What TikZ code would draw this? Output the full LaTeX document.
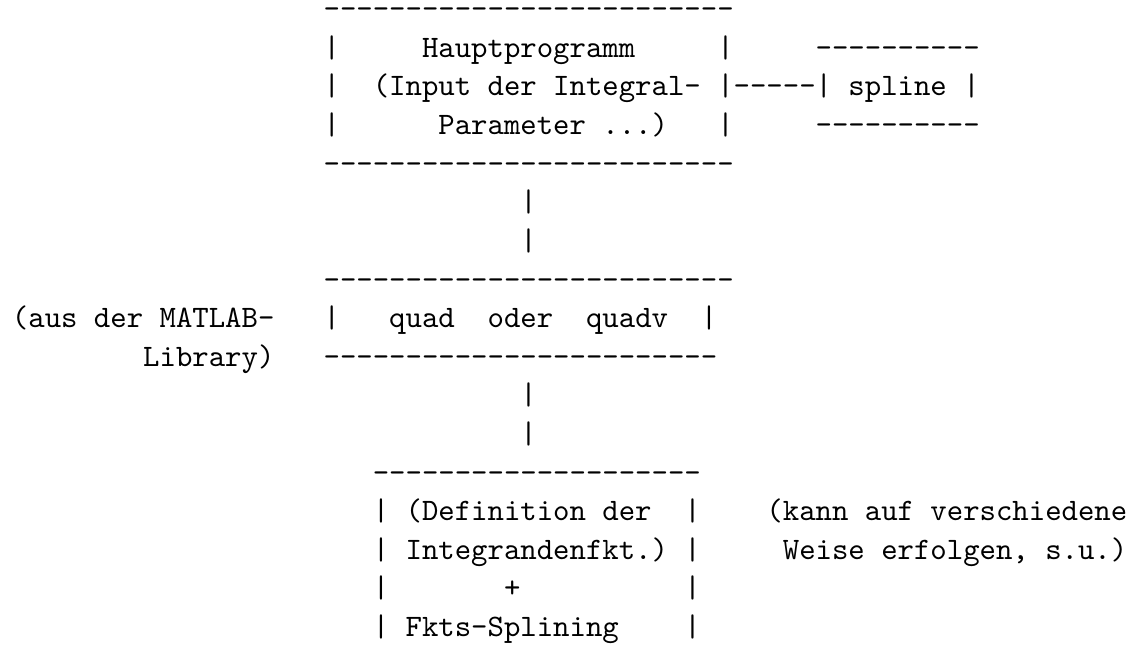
\documentclass[tikz,border=0pt]{standalone}

\newcommand\dashrow[1]{\foreach\k in {1,...,#1}{-\kern0pt}}

\begin{document}
\begin{tikzpicture}[x=5.25pt,y=-12.36pt,
		asc/.style={anchor=base west,inner sep=0pt,outer sep=0pt,font=\ttfamily}]
				
				\useasboundingbox (-0.731,0.515) rectangle (68.41,17.74);
				
				% Hauptprogramm
				\node[asc] (HT) at (19,1) {\dashrow{25}};
				\node[asc] (H2l) at (19,2) {|};
				\node[asc] (H2) at (25,2) {Hauptprogramm};
				\node[asc] (H2r) at (43,2) {|};
				\node[asc] (H3l) at (19,3) {|};
				\node[asc] (H3) at (22,3) {(Input der Integral-};
				\node[asc] (H3r) at (43,3) {|};
				\node[asc] (H4l) at (19,4) {|};
				\node[asc] (H4) at (26,4) {Parameter ...)};
				\node[asc] (H4r) at (43,4) {|};
				\node[asc] (HB) at (19,5) {\dashrow{25}};
				
				% spline
				\node[asc] (ST) at (49,2) {\dashrow{10}};
				\node[asc] (HS) at (44,3) {\dashrow{5}};
				\node[asc] (S3l) at (49,3) {|};
				\node[asc] (S3) at (51,3) {spline};
				\node[asc] (S3r) at (58,3) {|};
				\node[asc] (SB) at (49,4) {\dashrow{10}};
				
				\node[asc] (c1) at (31,6) {|};
				\node[asc] (c2) at (31,7) {|};
				
				% quad oder quadv
				\node[asc] (QT) at (19,8) {\dashrow{25}};
				\node[asc] (M1) at (0,9) {(aus der MATLAB-};
				\node[asc] (Q9l) at (19,9) {|};
				\node[asc] (Q1) at (23,9) {quad};
				\node[asc] (Q2) at (29,9) {oder};
				\node[asc] (Q3) at (35,9) {quadv};
				\node[asc] (Q9r) at (42,9) {|};
				\node[asc] (M2) at (8,10) {Library)};
				\node[asc] (QB) at (19,10) {\dashrow{24}};
				
				\node[asc] (c3) at (31,11) {|};
				\node[asc] (c4) at (31,12) {|};
				
				% Integrandenfkt.
				\node[asc] (IT) at (22,13) {\dashrow{20}};
				\node[asc] (I14l) at (22,14) {|};
				\node[asc] (I14) at (24,14) {(Definition der};
				\node[asc] (I14r) at (41,14) {|};
				\node[asc] (I15l) at (22,15) {|};
				\node[asc] (I15) at (24,15) {Integrandenfkt.)};
				\node[asc] (I15r) at (41,15) {|};
				\node[asc] (I16l) at (22,16) {|};
				\node[asc] (I16) at (30,16) {+};
				\node[asc] (I16r) at (41,16) {|};
				\node[asc] (I17l) at (22,17) {|};
				\node[asc] (I17) at (24,17) {Fkts-Splining};
				\node[asc] (I17r) at (41,17) {|};
				
				\node[asc] (K1) at (46,14) {(kann auf verschiedene};
				\node[asc] (K2) at (47,15) {Weise erfolgen, s.u.)};
				
			\end{tikzpicture}
\end{document}
